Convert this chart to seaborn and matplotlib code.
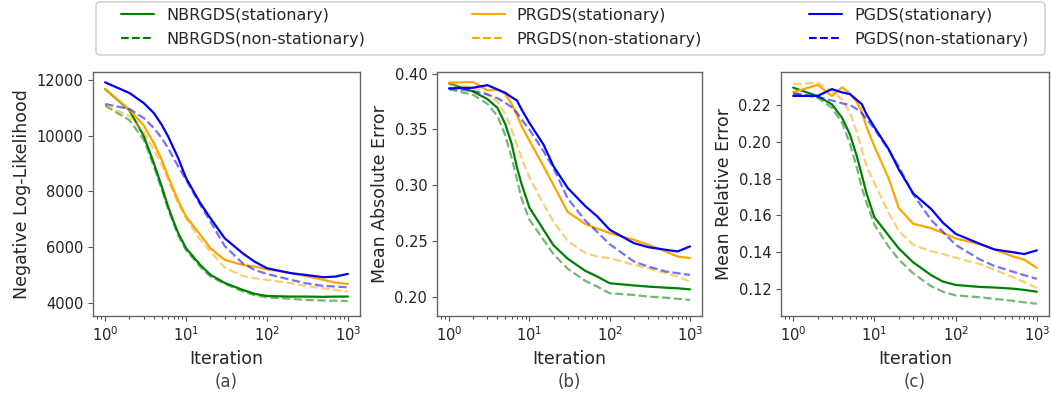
import matplotlib
matplotlib.use("Agg")
import matplotlib.pyplot as plt
from matplotlib.lines import Line2D
from matplotlib.patches import FancyBboxPatch
from matplotlib.transforms import IdentityTransform
import seaborn as sns

iterations = [1, 2, 3, 4, 5, 6, 7, 8, 10, 15, 20, 30, 50, 70, 100, 200, 300, 500, 700, 1000]

# (a) negative log-likelihood
nll_nbrgds_stat = [11666, 10900, 9990, 9015, 8180, 7460, 6930, 6510, 5970, 5370, 5020, 4730, 4480, 4340, 4260, 4240, 4240, 4230, 4240, 4240]
nll_nbrgds_non = [11070, 10550, 9850, 8900, 8080, 7380, 6850, 6430, 5900, 5300, 4960, 4700, 4430, 4290, 4210, 4160, 4120, 4100, 4090, 4080]
nll_prgds_stat = [11666, 10925, 10364, 9732, 9134, 8537, 8060, 7666, 7104, 6448, 5970, 5552, 5373, 5314, 5218, 5075, 4979, 4836, 4740, 4693]
nll_prgds_non = [11070, 10700, 10125, 9493, 8955, 8418, 7941, 7582, 7045, 6269, 5851, 5280, 4979, 4896, 4836, 4717, 4621, 4538, 4478, 4418]
nll_pgds_stat = [11905, 11522, 11164, 10806, 10388, 9970, 9552, 9194, 8478, 7582, 7045, 6329, 5791, 5493, 5254, 5075, 5015, 4932, 4956, 5051]
nll_pgds_non = [11130, 10950, 10627, 10269, 9911, 9552, 9194, 8896, 8418, 7522, 6926, 6050, 5433, 5194, 5051, 4836, 4717, 4621, 4597, 4573]

# (b) mean absolute error
mae_nbrgds_stat = [0.3913, 0.3840, 0.3772, 0.3694, 0.3550, 0.3375, 0.3160, 0.3010, 0.2800, 0.2600, 0.2460, 0.2340, 0.2230, 0.2180, 0.2120, 0.2100, 0.2090, 0.2080, 0.2075, 0.2065]
mae_nbrgds_non = [0.3859, 0.3810, 0.3730, 0.3620, 0.3450, 0.3250, 0.3050, 0.2880, 0.2690, 0.2510, 0.2380, 0.2250, 0.2140, 0.2090, 0.2030, 0.2015, 0.2000, 0.1990, 0.1980, 0.1970]
mae_prgds_stat = [0.3919, 0.3925, 0.3850, 0.3855, 0.3820, 0.3730, 0.3630, 0.3530, 0.3400, 0.3170, 0.3000, 0.2760, 0.2650, 0.2610, 0.2570, 0.2510, 0.2465, 0.2405, 0.2360, 0.2345]
mae_prgds_non = [0.3904, 0.3874, 0.3814, 0.3748, 0.3640, 0.3500, 0.3360, 0.3240, 0.3070, 0.2830, 0.2670, 0.2500, 0.2390, 0.2360, 0.2345, 0.2285, 0.2255, 0.2210, 0.2180, 0.2135]
mae_pgds_stat = [0.3868, 0.3874, 0.3897, 0.3859, 0.3829, 0.3789, 0.3760, 0.3679, 0.3559, 0.3364, 0.3169, 0.2975, 0.2810, 0.2720, 0.2600, 0.2480, 0.2444, 0.2420, 0.2405, 0.2450]
mae_pgds_non = [0.3868, 0.3844, 0.3814, 0.3780, 0.3740, 0.3700, 0.3650, 0.3590, 0.3499, 0.3304, 0.3154, 0.2880, 0.2680, 0.2580, 0.2470, 0.2315, 0.2270, 0.2225, 0.2210, 0.2195]

# (c) mean relative error
mre_nbrgds_stat = [0.2295, 0.2249, 0.2204, 0.2131, 0.2040, 0.1930, 0.1820, 0.1720, 0.1590, 0.1490, 0.1420, 0.1345, 0.1275, 0.1240, 0.1222, 0.1211, 0.1208, 0.1202, 0.1195, 0.1185]
mre_nbrgds_non = [0.2267, 0.2240, 0.2185, 0.2104, 0.1990, 0.1870, 0.1750, 0.1670, 0.1550, 0.1430, 0.1360, 0.1285, 0.1215, 0.1185, 0.1165, 0.1155, 0.1146, 0.1136, 0.1127, 0.1120]
mre_prgds_stat = [0.2270, 0.2310, 0.2250, 0.2297, 0.2262, 0.2220, 0.2165, 0.2080, 0.1976, 0.1800, 0.1640, 0.1555, 0.1530, 0.1505, 0.1475, 0.1443, 0.1415, 0.1378, 0.1359, 0.1315]
mre_prgds_non = [0.2313, 0.2322, 0.2276, 0.2231, 0.2158, 0.2058, 0.1958, 0.1867, 0.1776, 0.1613, 0.1515, 0.1440, 0.1405, 0.1390, 0.1370, 0.1335, 0.1305, 0.1265, 0.1238, 0.1205]
mre_pgds_stat = [0.2250, 0.2250, 0.2287, 0.2269, 0.2260, 0.2230, 0.2205, 0.2150, 0.2080, 0.1960, 0.1850, 0.1720, 0.1635, 0.1560, 0.1500, 0.1445, 0.1415, 0.1400, 0.1390, 0.1410]
mre_pgds_non = [0.2262, 0.2245, 0.2225, 0.2210, 0.2200, 0.2180, 0.2155, 0.2125, 0.2070, 0.1955, 0.1865, 0.1715, 0.1575, 0.1510, 0.1440, 0.1360, 0.1325, 0.1295, 0.1275, 0.1255]

models = ["NBRGDS", "PRGDS", "PGDS"]
colors = {"NBRGDS": "green", "PRGDS": "orange", "PGDS": "blue"}

panels = [
    ("Negative Log-Likelihood", "(a)", (3545, 12275), [4000, 6000, 8000, 10000, 12000],
     [nll_nbrgds_stat, nll_nbrgds_non, nll_prgds_stat, nll_prgds_non, nll_pgds_stat, nll_pgds_non]),
    ("Mean Absolute Error", "(b)", (0.1826, 0.4015), [0.20, 0.25, 0.30, 0.35, 0.40],
     [mae_nbrgds_stat, mae_nbrgds_non, mae_prgds_stat, mae_prgds_non, mae_pgds_stat, mae_pgds_non]),
    ("Mean Relative Error", "(c)", (0.1053, 0.2380), [0.12, 0.14, 0.16, 0.18, 0.20, 0.22],
     [mre_nbrgds_stat, mre_nbrgds_non, mre_prgds_stat, mre_prgds_non, mre_pgds_stat, mre_pgds_non]),
]

sns.set_style("ticks")
plt.rcParams["font.family"] = ["DejaVu Sans"]

fig = plt.figure(figsize=(10.51, 4.03), dpi=100)
lefts = [93 / 1051, 437 / 1051, 781 / 1051]
widths = [267 / 1051, 265 / 1051, 268 / 1051]

for (ylabel, tag, ylim, yticks, series), left, width in zip(panels, lefts, widths):
    ax = fig.add_axes([left, 1 - 316 / 403, width, 244 / 403])
    for i, m in enumerate(models):
        sns.lineplot(x=iterations, y=series[2 * i], ax=ax, color=colors[m], linewidth=1.6)
        sns.lineplot(x=iterations, y=series[2 * i + 1], ax=ax, color=colors[m], linewidth=1.6,
                     linestyle="--", alpha=0.55)
    ax.set_xscale("log")
    ax.set_xlim(10 ** -0.15, 10 ** 3.15)
    ax.set_ylim(*ylim)
    ax.set_yticks(yticks)
    ax.set_xticks([1, 10, 100, 1000])
    ax.set_xlabel("Iteration", fontsize=12.5)
    ax.set_ylabel(ylabel, fontsize=12.5)
    ax.tick_params(labelsize=10.5, colors="#222222")
    ax.tick_params(axis="both", color="#555555")
    for s in ax.spines.values():
        s.set_color("#666666")
        s.set_linewidth(1.0)
    fig.text(left + width / 2, 0.052, tag, ha="center", va="center", fontsize=12, color="#444444")

handles = []
labels = []
for m in models:
    handles.append(Line2D([], [], color=colors[m], linewidth=1.5))
    labels.append(f"{m}(stationary)")
    handles.append(Line2D([], [], color=colors[m], linewidth=1.5, linestyle="--"))
    labels.append(f"{m}(non-stationary)")

# legend frame drawn separately so the padding can match the original box
frame = FancyBboxPatch((96, 403 - 55), 949, 53, boxstyle="round,pad=0,rounding_size=4",
                       transform=IdentityTransform(), facecolor="white",
                       edgecolor="#cccccc", linewidth=1.0)
fig.add_artist(frame)

fig.legend(handles, labels, ncol=3, loc="upper left",
           bbox_to_anchor=(121 / 1051, 1 - 8 / 403),
           fontsize=11.5, frameon=False, handlelength=2.06, handletextpad=0.75,
           columnspacing=6.7, borderpad=0.0, borderaxespad=0.0, labelspacing=0.55)

fig.savefig("out.png", dpi=100)
